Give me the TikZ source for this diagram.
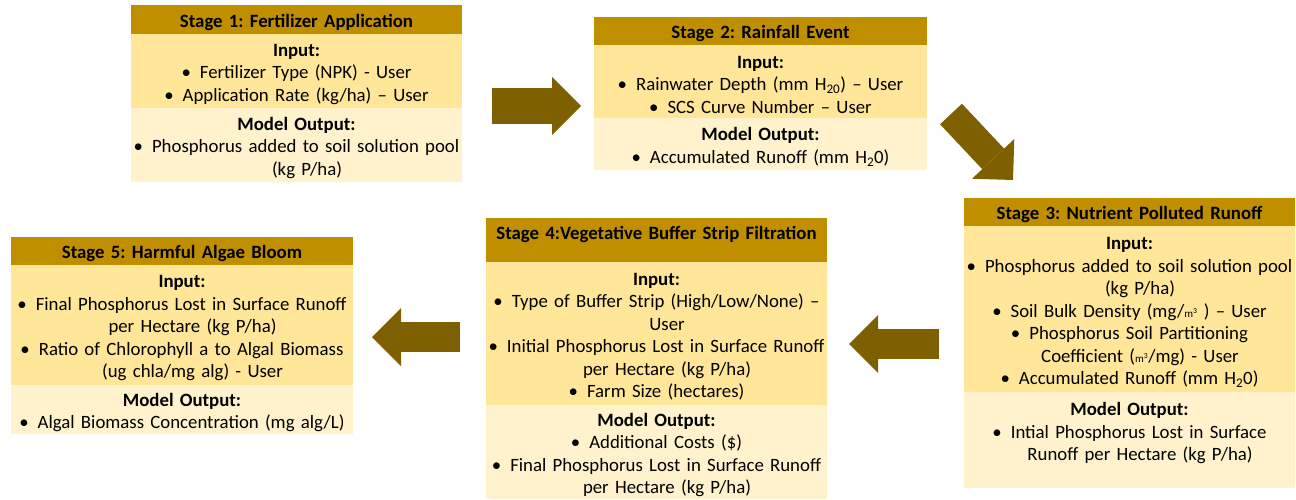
\documentclass[tikz,border=0pt]{standalone}
\usepackage{fontspec}
\setmainfont{Carlito}
\usetikzlibrary{arrows.meta,positioning}
\definecolor{hdrgold}{HTML}{BF8F00}
\definecolor{ingold}{HTML}{FFE699}
\definecolor{outgold}{HTML}{FFF2CC}
\definecolor{arrgold}{HTML}{7F6000}
\newcommand{\bl}{\textbullet\hspace{9pt}}
\newcommand{\hg}{\hspace*{21pt}}
\newcommand{\cubm}{{\fontsize{11}{11}\selectfont m\textsuperscript{3}}}
\frenchspacing
\begin{document}
\begin{tikzpicture}[x=1pt,y=-1pt,
    every node/.style={inner sep=0pt, outer sep=0pt, align=center,
        text height=19pt, font=\fontsize{18.8}{22.5}\selectfont},
    hdr/.style={fill=hdrgold, anchor=north,
        font=\fontsize{18.8}{22.5}\selectfont\bfseries},
    inbox/.style={fill=ingold},
    outbox/.style={fill=outgold},
    fatarrow/.style={draw=arrgold, line width=30pt,
        -{Triangle[length=29pt,width=58pt,line width=0pt]}}]
    \useasboundingbox (0,0) rectangle (1296,499);

    \node[hdr, text width=331pt, minimum height=29pt] (s1h) at (296.5,5)
        {Stage 1: Fertilizer Application};
    \node[inbox, text width=331pt, minimum height=74pt, below=0pt of s1h] (s1i)
        {\textbf{Input:}\\ \bl Fertilizer Type (NPK) - User\\
         \bl Application Rate (kg/ha) -- User};
    \node[outbox, text width=331pt, minimum height=74pt, below=0pt of s1i] (s1o)
        {\textbf{Model Output:}\\ \bl Phosphorus added to soil solution pool\\
         \hg(kg P/ha)};

    \node[hdr, text width=333pt, minimum height=28pt] (s2h) at (760.5,17)
        {Stage 2: Rainfall Event};
    \node[inbox, text width=333pt, minimum height=73pt, below=0pt of s2h] (s2i)
        {\textbf{Input:}\\ \bl Rainwater Depth (mm H\textsubscript{20}) -- User\\
         \bl SCS Curve Number -- User};
    \node[outbox, text width=333pt, minimum height=52pt, below=0pt of s2i] (s2o)
        {\textbf{Model Output:}\\ \bl Accumulated Runoff (mm H\textsubscript{2}0)};

    \node[hdr, text width=331pt, minimum height=28pt] (s3h) at (1129.5,198)
        {Stage 3: Nutrient Polluted Runoff};
    \node[inbox, text width=331pt, minimum height=166pt, below=0pt of s3h] (s3i)
        {\textbf{Input:}\\ \bl Phosphorus added to soil solution pool\\
         \hg(kg P/ha)\\
         \bl Soil Bulk Density (mg/\cubm\ ) -- User\\
         \bl Phosphorus Soil Partitioning\\
         \hg Coefficient (\cubm/mg) - User\\
         \bl Accumulated Runoff (mm H\textsubscript{2}0)};
    \node[outbox, text width=331pt, minimum height=96pt, text depth=68pt,
        below=0pt of s3i] (s3o)
        {\textbf{Model Output:}\\ \bl Intial Phosphorus Lost in Surface\\
         \hg Runoff per Hectare (kg P/ha)};

    \node[hdr, text width=341pt, minimum height=44pt, text depth=20pt] (s4h)
        at (656.5,218) {Stage 4:Vegetative Buffer Strip Filtration};
    \node[inbox, text width=341pt, minimum height=143pt, below=0pt of s4h] (s4i)
        {\textbf{Input:}\\ \bl Type of Buffer Strip (High/Low/None) --\\
         \hg User\\
         \bl Initial Phosphorus Lost in Surface Runoff\\
         \hg per Hectare (kg P/ha)\\
         \bl Farm Size (hectares)};
    \node[outbox, text width=341pt, minimum height=94pt, below=0pt of s4i] (s4o)
        {\textbf{Model Output:}\\ \bl Additional Costs (\$)\\
         \bl Final Phosphorus Lost in Surface Runoff\\
         \hg per Hectare (kg P/ha)};

    \node[hdr, text width=342pt, minimum height=28pt] (s5h) at (182,237)
        {Stage 5: Harmful Algae Bloom};
    \node[inbox, text width=342pt, minimum height=120pt, below=0pt of s5h] (s5i)
        {\textbf{Input:}\\ \bl Final Phosphorus Lost in Surface Runoff\\
         \hg per Hectare (kg P/ha)\\
         \bl Ratio of Chlorophyll a to Algal Biomass\\
         \hg(ug chla/mg alg) - User};
    \node[outbox, text width=342pt, minimum height=49pt, below=0pt of s5i] (s5o)
        {\textbf{Model Output:}\\ \bl Algal Biomass Concentration (mg alg/L)};

    \coordinate (a12s) at (492,106);
    \coordinate (a12e) at (581,106);
    \coordinate (a23s) at (951,114);
    \coordinate (a23e) at (1013,180);
    \coordinate (a34s) at (939,344);
    \coordinate (a34e) at (849,344);
    \coordinate (a45s) at (460,337);
    \coordinate (a45e) at (372,337);

    \draw[fatarrow, line width=36pt] (a12s) -- (a12e);
    \draw[fatarrow] (a23s) -- (a23e);
    \draw[fatarrow] (a34s) -- (a34e);
    \draw[fatarrow] (a45s) -- (a45e);
\end{tikzpicture}
\end{document}
